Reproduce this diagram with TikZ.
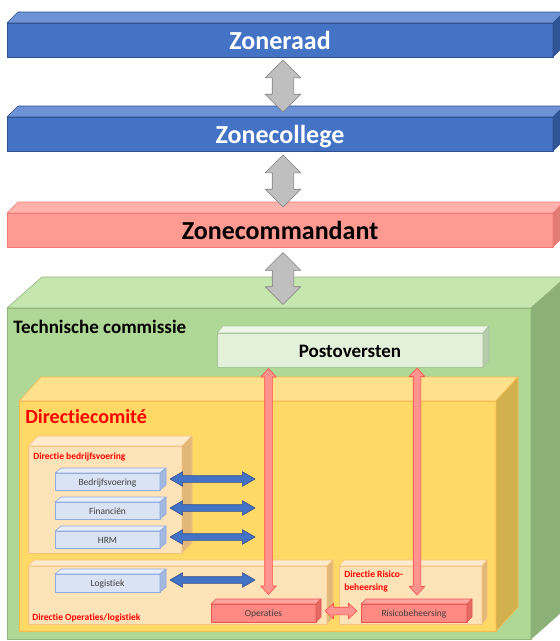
\documentclass[tikz,border=0pt]{standalone}
\usepackage{fontspec}
\setmainfont{Carlito}[Ligatures={NoCommon}]
\usetikzlibrary{positioning, calc, shapes.arrows}

\definecolor{blueFront}{HTML}{4472C4}
\definecolor{blueTop}{HTML}{6D92D6}
\definecolor{blueSide}{HTML}{2F5597}
\definecolor{blueLine}{HTML}{2F4F8F}
\definecolor{salmonFront}{HTML}{FF9A92}
\definecolor{salmonTop}{HTML}{FFB2AC}
\definecolor{salmonSide}{HTML}{E27C75}
\definecolor{salmonLine}{HTML}{F37B73}
\definecolor{greenFront}{HTML}{AFD795}
\definecolor{greenTop}{HTML}{C6E6B0}
\definecolor{greenSide}{HTML}{8DB078}
\definecolor{greenLine}{HTML}{8FB57A}
\definecolor{paleFront}{HTML}{E3F0DA}
\definecolor{paleTop}{HTML}{EEF6E9}
\definecolor{paleSide}{HTML}{B8CBAD}
\definecolor{paleLine}{HTML}{A8C49C}
\definecolor{goldFront}{HTML}{FFD966}
\definecolor{goldTop}{HTML}{FFE08C}
\definecolor{goldSide}{HTML}{D3B04E}
\definecolor{goldLine}{HTML}{F6B94C}
\definecolor{peachFront}{HTML}{FEE2B8}
\definecolor{peachTop}{HTML}{FFEACB}
\definecolor{peachSide}{HTML}{E2B878}
\definecolor{peachLine}{HTML}{F4C27E}
\definecolor{skyFront}{HTML}{DAE3F3}
\definecolor{skyTop}{HTML}{E6ECF8}
\definecolor{skySide}{HTML}{A3B8DF}
\definecolor{skyLine}{HTML}{8FAADC}
\definecolor{redFront}{HTML}{FF8A84}
\definecolor{redTop}{HTML}{FFA5A0}
\definecolor{redSide}{HTML}{E46A64}
\definecolor{redLine}{HTML}{E8524B}
\definecolor{arrowRed}{HTML}{FF948F}
\definecolor{arrowRedLine}{HTML}{FF4F4A}

% top and side face of a box node: name, dx, dy, top colour, side colour, line colour
\newcommand{\boxfaces}[6]{%
  \filldraw[fill=#4, draw=#6] (#1.north west) -- ++(#2,#3) -- ($(#1.north east)+(#2,#3)$) -- (#1.north east) -- cycle;
  \filldraw[fill=#5, draw=#6] (#1.north east) -- ++(#2,#3) -- ($(#1.south east)+(#2,#3)$) -- (#1.south east) -- cycle;
}

\begin{document}
\begin{tikzpicture}[x=1pt, y=-1pt, line join=round, line width=0.6pt,
    frontbox/.style={draw, anchor=north west, inner sep=0pt, outer sep=0pt},
    levelbar/.style={frontbox, minimum width=546pt, minimum height=34pt,
      text height=19pt, text depth=0pt, font=\bfseries\fontsize{26}{30}\selectfont},
    unitbox/.style={frontbox, fill=skyFront, draw=skyLine, minimum width=105pt,
      minimum height=17pt, text height=7pt, text depth=0pt, text=black!75,
      font=\fontsize{9.5}{11}\selectfont},
    boxtitle/.style={inner sep=0pt, font=\bfseries\fontsize{19}{22}\selectfont},
    subtitle/.style={inner sep=0pt, text=red, align=left,
      font=\bfseries\fontsize{9.5}{13}\selectfont},
    grayarrow/.style={double arrow, draw=black!50, fill=black!25, rotate=90,
      inner xsep=0pt, inner ysep=10.5pt, double arrow head extend=7pt, minimum height=52pt},
    bluearrow/.style={double arrow, draw=blueLine, fill=blueFront, inner xsep=0pt,
      inner ysep=3pt, double arrow head extend=4pt, double arrow tip angle=60, minimum height=85pt},
    redarrow/.style={double arrow, draw=arrowRedLine, fill=arrowRed, inner xsep=0pt,
      inner ysep=3.5pt, double arrow head extend=4pt, double arrow tip angle=85}]

    \useasboundingbox (0,0) rectangle (560,641);
    \clip (0,0) rectangle (560,641);
    \fill[white] (0,0) rectangle (560,641);

    % Levels
    \node[levelbar, fill=blueFront, draw=blueLine, text=white] (zr) at (7,23) {Zoneraad};
    \boxfaces{zr}{11}{-11}{blueTop}{blueSide}{blueLine}
    \node[levelbar, fill=blueFront, draw=blueLine, text=white] (zc) at (7,117) {Zonecollege};
    \boxfaces{zc}{11}{-11}{blueTop}{blueSide}{blueLine}
    \node[levelbar, fill=salmonFront, draw=salmonLine, text=black] (zcmd) at (7,213) {Zonecommandant};
    \boxfaces{zcmd}{11}{-11}{salmonTop}{salmonSide}{salmonLine}

    % Technische commissie
    \node[frontbox, fill=greenFront, draw=greenLine, minimum width=524pt, minimum height=331pt] (tc) at (7,308) {};
    \boxfaces{tc}{35}{-31}{greenTop}{greenSide}{greenLine}
    \node[boxtitle, below right=25pt and 6pt of tc.north west, anchor=base west] (tcl) {Technische commissie};
    \node[frontbox, fill=paleFront, draw=paleLine, minimum width=266pt, minimum height=34pt,
      text height=14pt, text depth=0pt, font=\bfseries\fontsize{19}{22}\selectfont] (po) at (217,333) {Postoversten};
    \boxfaces{po}{6}{-7}{paleTop}{paleSide}{paleLine}

    % Directiecomite
    \node[frontbox, fill=goldFront, draw=goldLine, minimum width=477pt, minimum height=230pt] (dc) at (19,401) {};
    \boxfaces{dc}{22}{-24}{goldTop}{goldSide}{goldLine}
    \node[boxtitle, text=red, font=\bfseries\fontsize{20}{24}\selectfont,
      below right=22pt and 6pt of dc.north west, anchor=base west] (dcl) {Directiecomité};

    % Directie bedrijfsvoering
    \node[frontbox, fill=peachFront, draw=peachLine, minimum width=154pt, minimum height=107pt] (dbv) at (28,446) {};
    \boxfaces{dbv}{10}{-10}{peachTop}{peachSide}{peachLine}
    \node[subtitle, below right=13pt and 5pt of dbv.north west, anchor=base west] (dbvl) {Directie bedrijfsvoering};
    \node[unitbox] (bv) at (55,473) {Bedrijfsvoering};
    \boxfaces{bv}{6}{-5}{skyTop}{skySide}{skyLine}
    \node[unitbox] (fin) at (55,502) {Financiën};
    \boxfaces{fin}{6}{-5}{skyTop}{skySide}{skyLine}
    \node[unitbox] (hrm) at (55,531) {HRM};
    \boxfaces{hrm}{6}{-5}{skyTop}{skySide}{skyLine}

    % Directie Operaties/logistiek
    \node[frontbox, fill=peachFront, draw=peachLine, minimum width=299pt, minimum height=58pt] (dol) at (28,566) {};
    \boxfaces{dol}{6}{-6}{peachTop}{peachSide}{peachLine}
    \node[subtitle, above right=4pt and 4pt of dol.south west, anchor=base west] (doll) {Directie Operaties/logistiek};
    \node[unitbox, minimum height=18pt] (log) at (55,574) {Logistiek};
    \boxfaces{log}{6}{-5}{skyTop}{skySide}{skyLine}
    \node[unitbox, fill=redFront, draw=redLine, minimum height=18pt] (ops) at (211,604) {Operaties};
    \boxfaces{ops}{5}{-5}{redTop}{redSide}{redLine}

    % Directie Risicobeheersing
    \node[frontbox, fill=peachFront, draw=peachLine, minimum width=143pt, minimum height=58pt] (drb) at (339,566) {};
    \boxfaces{drb}{5}{-6}{peachTop}{peachSide}{peachLine}
    \node[subtitle, anchor=north west, below right=4.5pt and 5pt of drb.north west] (drbl) {Directie Risico-\\beheersing};
    \node[unitbox, fill=redFront, draw=redLine, minimum width=106pt, minimum height=18pt] (rb) at (361,604) {Risicobeheersing};
    \boxfaces{rb}{5}{-5}{redTop}{redSide}{redLine}

    % Arrows between levels
    \node[grayarrow] (g1) at ($(zr.south)!0.5!(zc.north)+(3,-1)$) {};
    \node[grayarrow] (g2) at ($(zc.south)!0.5!(zcmd.north)+(3,-1)$) {};
    \node[grayarrow] (g3) at ($(zcmd.south)!0.5!(zcmd.south |- tc.north)+(3,1)$) {};

    % Arrows inside the directiecomite
    \node[bluearrow] (b1) at ($(bv.east)+(52.5,-2.5)$) {};
    \node[bluearrow] (b2) at ($(fin.east)+(52.5,-2.5)$) {};
    \node[bluearrow] (b3) at ($(hrm.east)+(52.5,-2.5)$) {};
    \node[bluearrow] (b4) at ($(log.east)+(52.5,-3)$) {};
    \node[redarrow, rotate=90, minimum height=226pt] (r1) at ($(ops.north |- po.south)!0.5!(ops.north)+(5,-4)$) {};
    \node[redarrow, rotate=90, minimum height=227pt] (r2) at ($(rb.north |- po.south)!0.5!(rb.north)+(3,-4)$) {};
    \node[redarrow, minimum height=32pt] (r3) at ($(ops.east)!0.5!(rb.west)+(2.5,-2)$) {};

\end{tikzpicture}
\end{document}
